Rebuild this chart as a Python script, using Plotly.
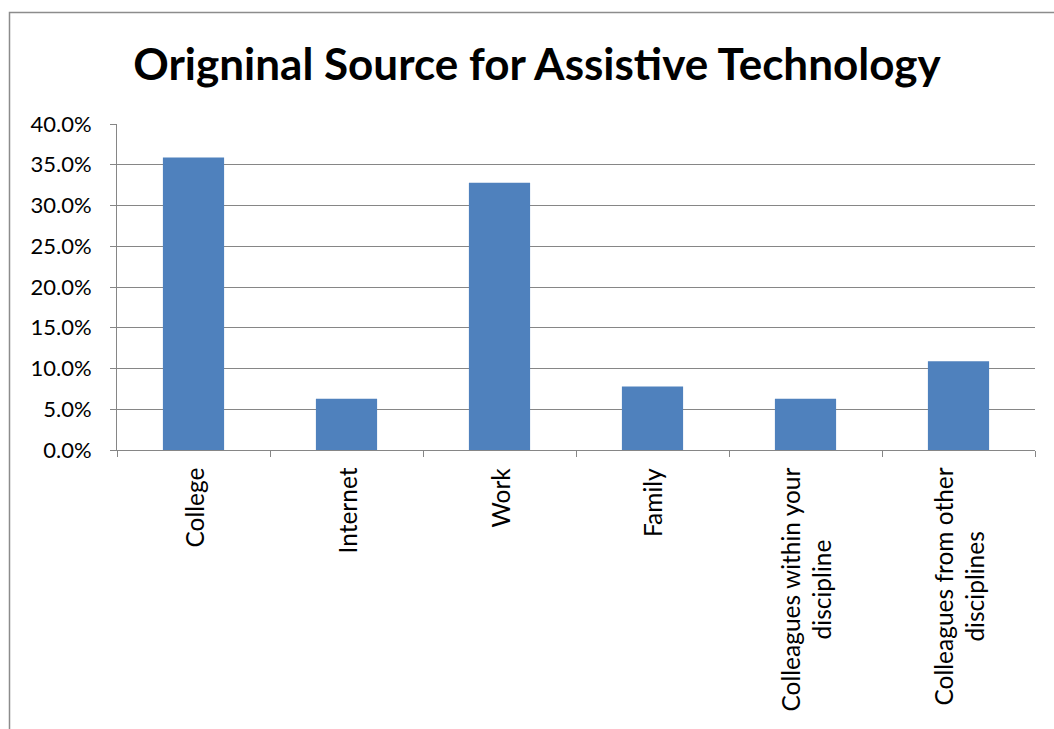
import plotly.graph_objects as go

categories = ["College", "Internet", "Work", "Family",
              "Colleagues within your<br>discipline",
              "Colleagues from other<br>disciplines"]
values = [0.359, 0.063, 0.328, 0.078, 0.063, 0.109]
y_ticks = [0.0, 0.05, 0.10, 0.15, 0.20, 0.25, 0.30, 0.35, 0.40]
y_tick_labels = ["0.0%", "5.0%", "10.0%", "15.0%", "20.0%", "25.0%", "30.0%", "35.0%", "40.0%"]
title_text = "Origninal Source for Assistive Technology"

FONT = "Lato"
GRID = "#868686"

fig = go.Figure()
fig.add_trace(go.Bar(x=categories, y=values, marker=dict(color="#4F81BD", line=dict(width=0))))

annotations = []
for c in categories:
    annotations.append(dict(
        x=c, y=0, xref="x", yref="y", text=c, showarrow=False,
        textangle=-90, xanchor="center", yanchor="top", yshift=-16,
        align="center", font=dict(family=FONT, size=24.5, color="#000000")))

fig.update_layout(
    width=1054, height=729,
    margin=dict(l=117, r=19, t=124, b=279),
    paper_bgcolor="white", plot_bgcolor="white",
    showlegend=False, bargap=0.6,
    title=dict(text="<b>" + title_text + "</b>", x=0.5095, xanchor="center",
               y=1 - 65 / 729, yanchor="middle",
               font=dict(family=FONT, size=44, color="#000000")),
    xaxis=dict(showticklabels=False, ticks="outside", tickson="boundaries",
               ticklen=6, tickcolor=GRID, showline=True, linecolor=GRID,
               linewidth=1, showgrid=False),
    yaxis=dict(range=[0, 0.40], tickvals=y_ticks, ticktext=y_tick_labels,
               ticks="outside", ticklen=6, tickcolor=GRID, showline=True,
               linecolor=GRID, linewidth=1, showgrid=True, gridcolor=GRID,
               gridwidth=1, zeroline=False, ticklabelstandoff=14,
               tickfont=dict(family=FONT, size=22, color="#000000")),
    annotations=annotations,
    shapes=[dict(type="rect", xref="paper", yref="paper",
                 x0=(9.5 - 117) / 918, x1=1.1, y0=-1.0, y1=(450 - 12.5) / 326,
                 line=dict(color="#8C8C8C", width=1.5), fillcolor="rgba(0,0,0,0)",
                 layer="below")],
)

fig.write_html("out.html")
